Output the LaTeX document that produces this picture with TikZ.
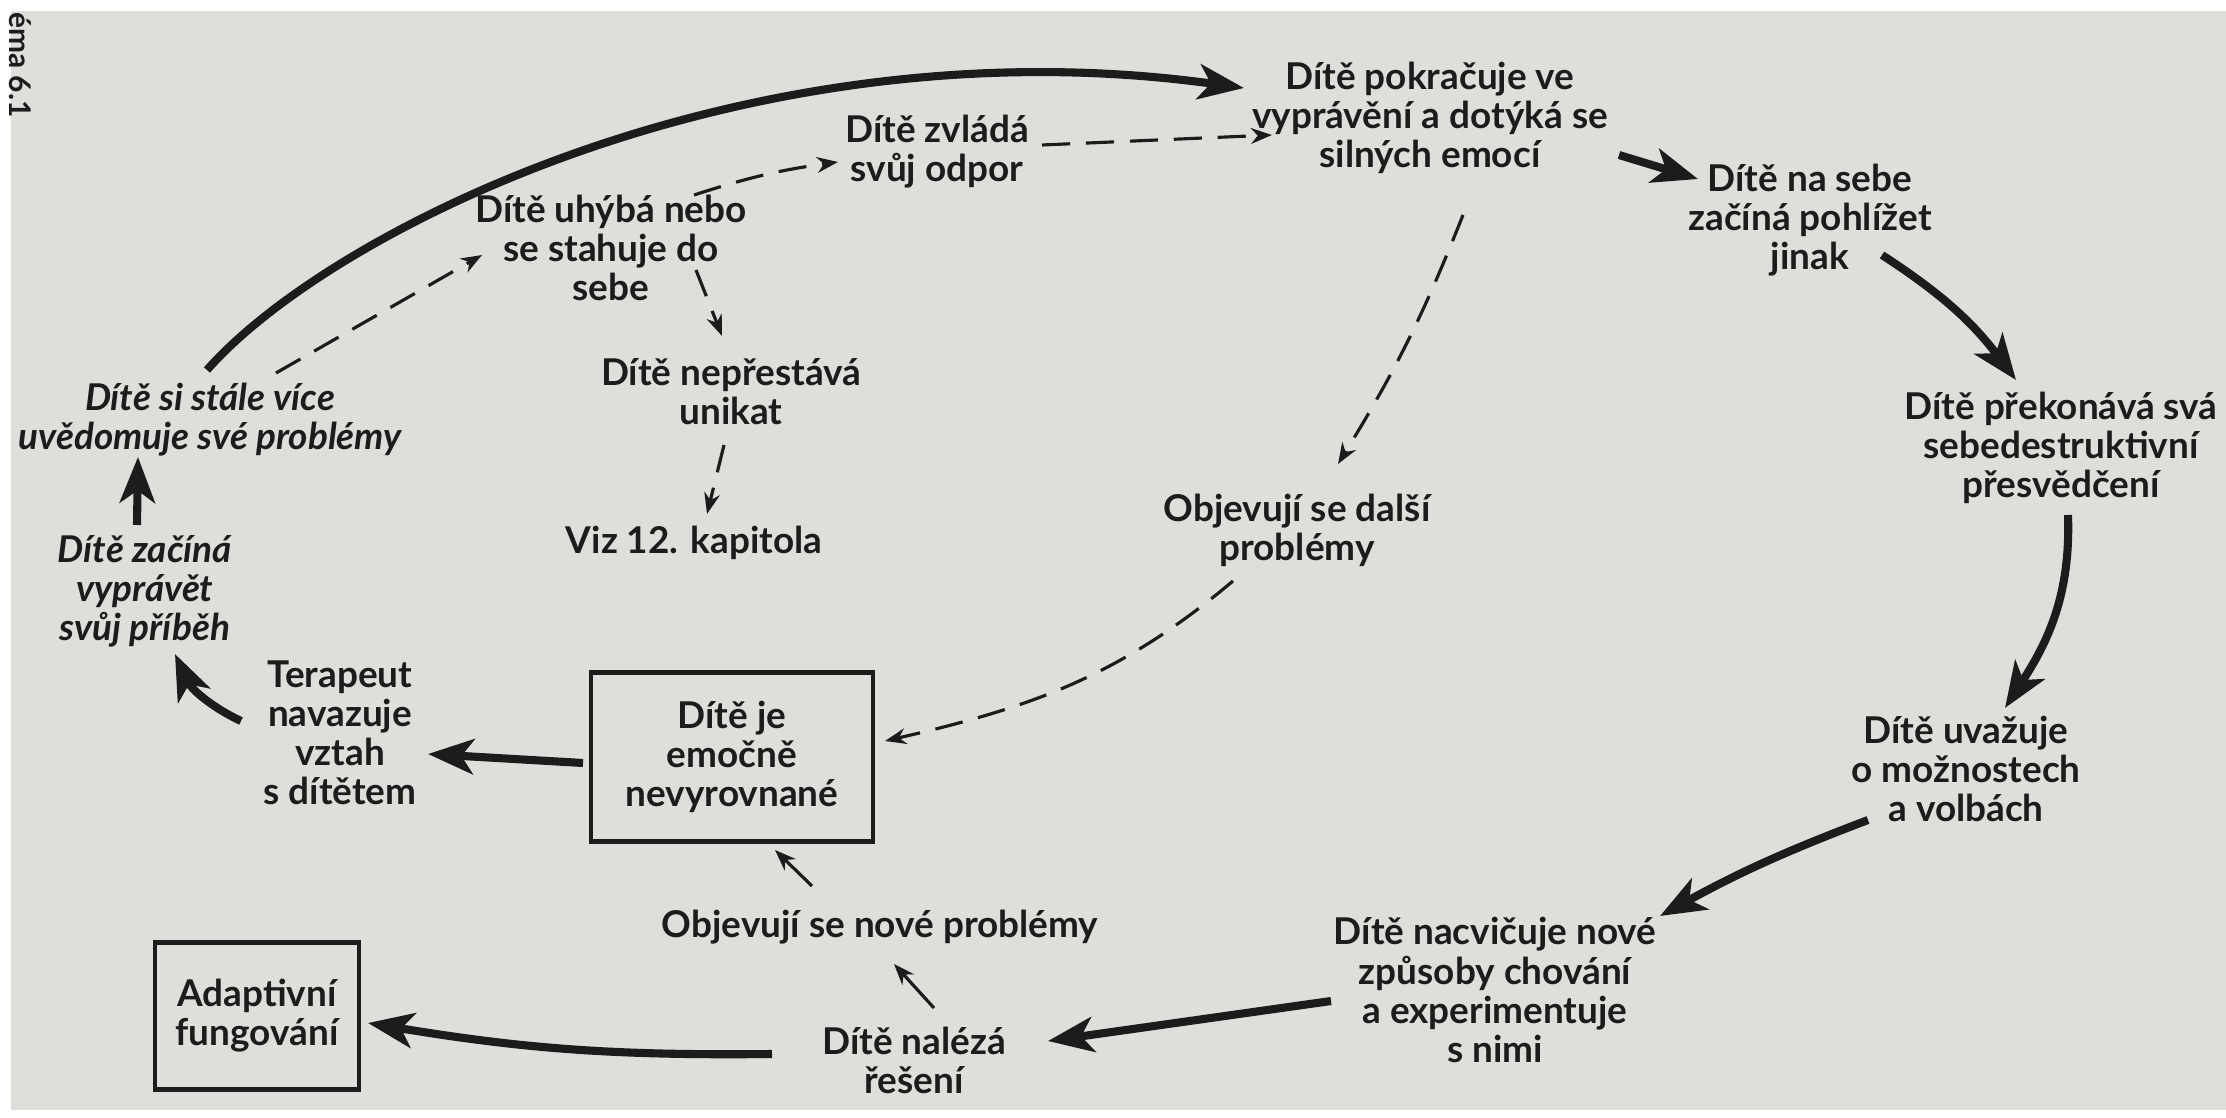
\documentclass[tikz,border=0pt]{standalone}
\usepackage{fontspec}
\setmainfont{Lato}
\usetikzlibrary{arrows.meta}

\definecolor{paper}{RGB}{222,222,219}
\definecolor{ink}{RGB}{28,28,28}

\tikzset{
  lbl/.style={align=center, text=ink, inner sep=1pt,
    font=\bfseries\fontsize{10.5}{11.1}\selectfont},
  slant/.style={lbl, font=\bfseries\itshape\fontsize{10.5}{11.1}\selectfont},
  boxed/.style={lbl, draw=ink, line width=1.3pt},
  bigarr/.style={draw=ink, line width=2.3pt, -{Stealth[length=13pt,width=10pt,inset=3.5pt]}},
  dasharr/.style={draw=ink, line width=0.9pt, dash pattern=on 8pt off 4.5pt,
    -{Stealth[length=6pt,width=4.5pt]}},
  thinarr/.style={draw=ink, line width=0.9pt, -{Stealth[length=6pt,width=4.5pt]}},
}

\begin{document}
\begin{tikzpicture}[x=0.01cm,y=-0.01cm]
\useasboundingbox (0,0) rectangle (2226,1118);
\fill[white] (0,0) rectangle (2226,1118);
\fill[paper] (11,11) rectangle (2226,1110);

\node[lbl, font=\bfseries\fontsize{8.5}{9}\selectfont, rotate=-90, anchor=west] (hdr) at (20,8) {éma 6.1};

% main cycle
\node[slant] (uved) at (210,420) {Dítě si stále více\\uvědomuje své problémy};
\node[slant] (zacina) at (145,591) {Dítě začíná\\vyprávět\\svůj příběh};
\node[lbl] (terap) at (340,733) {Terapeut\\navazuje\\vztah\\s dítětem};
\node[boxed, minimum width=2.82cm, minimum height=1.69cm] (emoc) at (732,757) {Dítě je\\emočně\\nevyrovnané};
\node[lbl] (nove) at (880,927) {Objevují se nové problémy};
\node[lbl] (nalez) at (914,1060) {Dítě nalézá\\řešení};
\node[boxed, minimum width=2.04cm, minimum height=1.47cm] (adapt) at (257,1016) {Adaptivní\\fungování};
\node[lbl] (nacvic) at (1495,990) {Dítě nacvičuje nové\\způsoby chování\\a experimentuje\\s nimi};
\node[lbl] (uvaz) at (1966,769) {Dítě uvažuje\\o možnostech\\a volbách};
\node[lbl] (prekon) at (2061,448) {Dítě překonává svá\\sebedestruktivní\\přesvědčení};
\node[lbl] (pohliz) at (1810,220) {Dítě na sebe\\začíná pohlížet\\jinak};
\node[lbl] (pokrac) at (1430,118) {Dítě pokračuje ve\\vyprávění a dotýká se\\silných emocí};

% side paths
\node[lbl] (zvlada) at (937,152) {Dítě zvládá\\svůj odpor};
\node[lbl] (uhyba) at (611,248) {Dítě uhýbá nebo\\se stahuje do\\sebe};
\node[lbl] (nepres) at (731,392) {Dítě nepřestává\\unikat};
\node[lbl] (viz) at (694,543) {Viz 12. kapitola};
\node[lbl] (dalsi) at (1297,530) {Objevují se další\\problémy};

\draw[bigarr] ([shift={(-3,-50)}]uved.center) .. controls (330,230) and (750,20) .. ([shift={(-186,-30)}]pokrac.center);
\draw[bigarr] ([shift={(189,37)}]pokrac.center) -- ([shift={(-112,-41)}]pohliz.center);
\draw[bigarr] ([shift={(72,35)}]pohliz.center) to[bend left=10] ([shift={(-45,-68)}]prekon.center);
\draw[bigarr] ([shift={(7,67)}]prekon.center) to[out=-88,in=57] ([shift={(39,-61)}]uvaz.center);
\draw[bigarr] ([shift={(-98,51)}]uvaz.center) to[bend right=4] ([shift={(165,-74)}]nacvic.center);
\draw[bigarr] ([shift={(-164,11)}]nacvic.center) -- ([shift={(134,-19)}]nalez.center);
\draw[bigarr] ([shift={(-142,-6)}]nalez.center) to[bend left=5] ([shift={(111,7)}]adapt.center);
\draw[bigarr] ([shift={(-149,6)}]emoc.center) -- ([shift={(88,21)}]terap.center);
\draw[bigarr] ([shift={(-99,-12)}]terap.center) to[bend left=20] ([shift={(30,63)}]zacina.center);
\draw[bigarr] ([shift={(-8,-66)}]zacina.center) -- ([shift={(-72,37)}]uved.center);

\draw[thinarr] ([shift={(20,-52)}]nalez.center) -- ([shift={(14,37)}]nove.center);
\draw[thinarr] ([shift={(-68,-41)}]nove.center) -- ([shift={(43,93)}]emoc.center);

\draw[dasharr] ([shift={(66,-47)}]uved.center) -- ([shift={(-129,7)}]uhyba.center);
\draw[dasharr] ([shift={(83,-53)}]uhyba.center) to[bend left=5] ([shift={(-99,10)}]zvlada.center);
\draw[dasharr] ([shift={(105,-7)}]zvlada.center) -- ([shift={(-158,17)}]pokrac.center);
\draw[dasharr] ([shift={(85,22)}]uhyba.center) -- ([shift={(-9,-56)}]nepres.center);
\draw[dasharr] ([shift={(-7,53)}]nepres.center) -- ([shift={(13,-29)}]viz.center);
\draw[dasharr] ([shift={(33,97)}]pokrac.center) to[bend left=5] ([shift={(41,-66)}]dalsi.center);
\draw[dasharr] ([shift={(-64,51)}]dalsi.center) to[out=-140,in=13] ([shift={(153,-16)}]emoc.center);
\end{tikzpicture}
\end{document}
